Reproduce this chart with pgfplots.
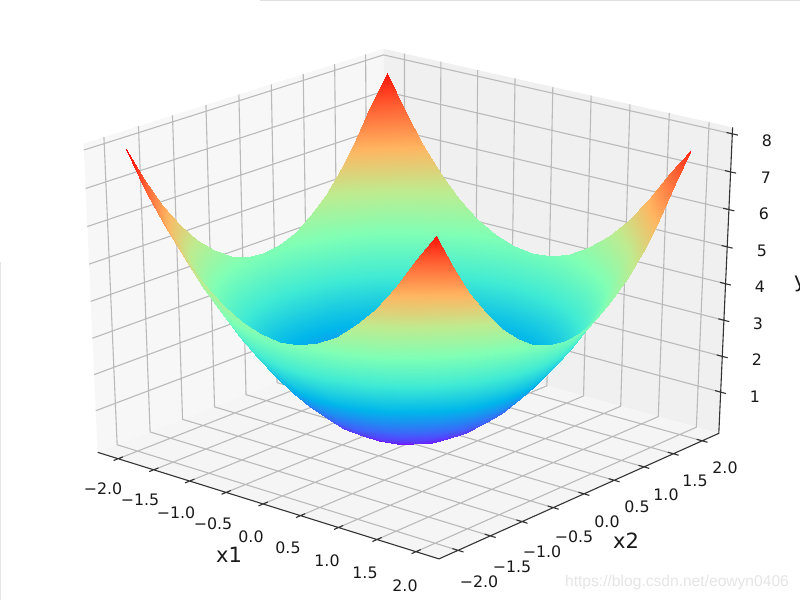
\documentclass[border=0pt]{standalone}
\usepackage{fontspec}
\setmainfont{DejaVu Sans}
\newfontfamily\markfont{Liberation Sans}
\usepackage{pgfplots}
\usepackage{pgfplotstable}
\pgfplotsset{compat=1.18}

% x1 x2 y, far row first so that the near corner is painted last
\pgfplotstableread{
a b c
-2 2 7.8025
-1.75 2 6.865
-1.5 2 6.0525
-1.25 2 5.365
-1 2 4.8025
-0.75 2 4.365
-0.5 2 4.0525
-0.25 2 3.865
0 2 3.8025
0.25 2 3.865
0.5 2 4.0525
0.75 2 4.365
1 2 4.8025
1.25 2 5.365
1.5 2 6.0525
1.75 2 6.865
2 2 7.605
-2 1.75 7.0625
-1.75 1.75 6.125
-1.5 1.75 5.3125
-1.25 1.75 4.625
-1 1.75 4.0625
-0.75 1.75 3.625
-0.5 1.75 3.3125
-0.25 1.75 3.125
0 1.75 3.0625
0.25 1.75 3.125
0.5 1.75 3.3125
0.75 1.75 3.625
1 1.75 4.0625
1.25 1.75 4.625
1.5 1.75 5.3125
1.75 1.75 6.125
2 1.75 6.865
-2 1.5 6.25
-1.75 1.5 5.3125
-1.5 1.5 4.5
-1.25 1.5 3.8125
-1 1.5 3.25
-0.75 1.5 2.8125
-0.5 1.5 2.5
-0.25 1.5 2.3125
0 1.5 2.25
0.25 1.5 2.3125
0.5 1.5 2.5
0.75 1.5 2.8125
1 1.5 3.25
1.25 1.5 3.8125
1.5 1.5 4.5
1.75 1.5 5.3125
2 1.5 6.0525
-2 1.25 5.5625
-1.75 1.25 4.625
-1.5 1.25 3.8125
-1.25 1.25 3.125
-1 1.25 2.5625
-0.75 1.25 2.125
-0.5 1.25 1.8125
-0.25 1.25 1.625
0 1.25 1.5625
0.25 1.25 1.625
0.5 1.25 1.8125
0.75 1.25 2.125
1 1.25 2.5625
1.25 1.25 3.125
1.5 1.25 3.8125
1.75 1.25 4.625
2 1.25 5.365
-2 1 5
-1.75 1 4.0625
-1.5 1 3.25
-1.25 1 2.5625
-1 1 2
-0.75 1 1.5625
-0.5 1 1.25
-0.25 1 1.0625
0 1 1
0.25 1 1.0625
0.5 1 1.25
0.75 1 1.5625
1 1 2
1.25 1 2.5625
1.5 1 3.25
1.75 1 4.0625
2 1 4.8025
-2 0.75 4.5625
-1.75 0.75 3.625
-1.5 0.75 2.8125
-1.25 0.75 2.125
-1 0.75 1.5625
-0.75 0.75 1.125
-0.5 0.75 0.8125
-0.25 0.75 0.625
0 0.75 0.5625
0.25 0.75 0.625
0.5 0.75 0.8125
0.75 0.75 1.125
1 0.75 1.5625
1.25 0.75 2.125
1.5 0.75 2.8125
1.75 0.75 3.625
2 0.75 4.365
-2 0.5 4.25
-1.75 0.5 3.3125
-1.5 0.5 2.5
-1.25 0.5 1.8125
-1 0.5 1.25
-0.75 0.5 0.8125
-0.5 0.5 0.5
-0.25 0.5 0.3125
0 0.5 0.25
0.25 0.5 0.3125
0.5 0.5 0.5
0.75 0.5 0.8125
1 0.5 1.25
1.25 0.5 1.8125
1.5 0.5 2.5
1.75 0.5 3.3125
2 0.5 4.0525
-2 0.25 4.0625
-1.75 0.25 3.125
-1.5 0.25 2.3125
-1.25 0.25 1.625
-1 0.25 1.0625
-0.75 0.25 0.625
-0.5 0.25 0.3125
-0.25 0.25 0.125
0 0.25 0.0625
0.25 0.25 0.125
0.5 0.25 0.3125
0.75 0.25 0.625
1 0.25 1.0625
1.25 0.25 1.625
1.5 0.25 2.3125
1.75 0.25 3.125
2 0.25 3.865
-2 0 4
-1.75 0 3.0625
-1.5 0 2.25
-1.25 0 1.5625
-1 0 1
-0.75 0 0.5625
-0.5 0 0.25
-0.25 0 0.0625
0 0 0
0.25 0 0.0625
0.5 0 0.25
0.75 0 0.5625
1 0 1
1.25 0 1.5625
1.5 0 2.25
1.75 0 3.0625
2 0 3.8025
-2 -0.25 4.0625
-1.75 -0.25 3.125
-1.5 -0.25 2.3125
-1.25 -0.25 1.625
-1 -0.25 1.0625
-0.75 -0.25 0.625
-0.5 -0.25 0.3125
-0.25 -0.25 0.125
0 -0.25 0.0625
0.25 -0.25 0.125
0.5 -0.25 0.3125
0.75 -0.25 0.625
1 -0.25 1.0625
1.25 -0.25 1.625
1.5 -0.25 2.3125
1.75 -0.25 3.125
2 -0.25 3.865
-2 -0.5 4.25
-1.75 -0.5 3.3125
-1.5 -0.5 2.5
-1.25 -0.5 1.8125
-1 -0.5 1.25
-0.75 -0.5 0.8125
-0.5 -0.5 0.5
-0.25 -0.5 0.3125
0 -0.5 0.25
0.25 -0.5 0.3125
0.5 -0.5 0.5
0.75 -0.5 0.8125
1 -0.5 1.25
1.25 -0.5 1.8125
1.5 -0.5 2.5
1.75 -0.5 3.3125
2 -0.5 4.0525
-2 -0.75 4.5625
-1.75 -0.75 3.625
-1.5 -0.75 2.8125
-1.25 -0.75 2.125
-1 -0.75 1.5625
-0.75 -0.75 1.125
-0.5 -0.75 0.8125
-0.25 -0.75 0.625
0 -0.75 0.5625
0.25 -0.75 0.625
0.5 -0.75 0.8125
0.75 -0.75 1.125
1 -0.75 1.5625
1.25 -0.75 2.125
1.5 -0.75 2.8125
1.75 -0.75 3.625
2 -0.75 4.365
-2 -1 5
-1.75 -1 4.0625
-1.5 -1 3.25
-1.25 -1 2.5625
-1 -1 2
-0.75 -1 1.5625
-0.5 -1 1.25
-0.25 -1 1.0625
0 -1 1
0.25 -1 1.0625
0.5 -1 1.25
0.75 -1 1.5625
1 -1 2
1.25 -1 2.5625
1.5 -1 3.25
1.75 -1 4.0625
2 -1 4.8025
-2 -1.25 5.5625
-1.75 -1.25 4.625
-1.5 -1.25 3.8125
-1.25 -1.25 3.125
-1 -1.25 2.5625
-0.75 -1.25 2.125
-0.5 -1.25 1.8125
-0.25 -1.25 1.625
0 -1.25 1.5625
0.25 -1.25 1.625
0.5 -1.25 1.8125
0.75 -1.25 2.125
1 -1.25 2.5625
1.25 -1.25 3.125
1.5 -1.25 3.8125
1.75 -1.25 4.625
2 -1.25 5.365
-2 -1.5 6.25
-1.75 -1.5 5.3125
-1.5 -1.5 4.5
-1.25 -1.5 3.8125
-1 -1.5 3.25
-0.75 -1.5 2.8125
-0.5 -1.5 2.5
-0.25 -1.5 2.3125
0 -1.5 2.25
0.25 -1.5 2.3125
0.5 -1.5 2.5
0.75 -1.5 2.8125
1 -1.5 3.25
1.25 -1.5 3.8125
1.5 -1.5 4.5
1.75 -1.5 5.3125
2 -1.5 6.0525
-2 -1.75 7.0625
-1.75 -1.75 6.125
-1.5 -1.75 5.3125
-1.25 -1.75 4.625
-1 -1.75 4.0625
-0.75 -1.75 3.625
-0.5 -1.75 3.3125
-0.25 -1.75 3.125
0 -1.75 3.0625
0.25 -1.75 3.125
0.5 -1.75 3.3125
0.75 -1.75 3.625
1 -1.75 4.0625
1.25 -1.75 4.625
1.5 -1.75 5.3125
1.75 -1.75 6.125
2 -1.75 6.865
-2 -2 8
-1.75 -2 7.0625
-1.5 -2 6.25
-1.25 -2 5.5625
-1 -2 5
-0.75 -2 4.5625
-0.5 -2 4.25
-0.25 -2 4.0625
0 -2 4
0.25 -2 4.0625
0.5 -2 4.25
0.75 -2 4.5625
1 -2 5
1.25 -2 5.5625
1.5 -2 6.25
1.75 -2 7.0625
2 -2 7.8025
}\surfdata

\pgfplotstableread{
a b c
-2.2917 -2.2917 -0.1667
-2.2917 2.2917 -0.1667
-2.2917 2.2917 8.1667
-2.2917 -2.2917 8.1667
}\paneleft
\pgfplotstableread{
a b c
-2.2917 2.2917 -0.1667
2.2917 2.2917 -0.1667
2.2917 2.2917 8.1667
-2.2917 2.2917 8.1667
}\paneright
\pgfplotstableread{
a b c
-2.2917 -2.2917 -0.1667
2.2917 -2.2917 -0.1667
2.2917 2.2917 -0.1667
-2.2917 2.2917 -0.1667
}\panefloor

% the perspective of the original 3d view (azim -50, elev 25, dist 10), in pixels
\pgfplotsset{
  /pgfplots/table/proj/.style={
    x expr={PX(\thisrow{a},\thisrow{b},\thisrow{c})},
    y expr={PY(\thisrow{a},\thisrow{b},\thisrow{c})},
    z expr=0,
  },
}

\begin{document}
\begin{tikzpicture}
\useasboundingbox (0,0) rectangle (800pt,600pt);
\begin{axis}[
  at={(0,0)}, anchor=south west,
  scale only axis, width=800pt, height=600pt,
  xmin=0, xmax=800, ymin=0, ymax=600, zmin=-1, zmax=9,
  view={0}{90}, hide axis,
  declare function={
    DD(\a,\b,\c)=10-(0.5825*\a/4.4-0.694*\b/4.4+0.4226*(\c-4)/8);
    PX(\a,\b,\c)=410+4325*(0.766*\a/4.4+0.643*\b/4.4)/DD(\a,\b,\c);
    PY(\a,\b,\c)=307.5+3255*(-0.2717*\a/4.4+0.3237*\b/4.4+0.906*(\c-4)/8)/DD(\a,\b,\c);
  },
  colormap={rb}{rgb=(.5,0,1) rgb=(.25,.38,.98) rgb=(0,.71,.92) rgb=(.25,.92,.83)
    rgb=(.5,1,.71) rgb=(.75,.92,.56) rgb=(1,.71,.38) rgb=(1,.38,.2) rgb=(1,0,0)},
  point meta min=0, point meta max=8,
  empty line=jump,
]
\addplot3[draw=none, fill=black!3] table[proj] \paneleft;
\addplot3[draw=none, fill=black!6] table[proj] \paneright;
\addplot3[draw=none, fill=black!4] table[proj] \panefloor;

% grid on the three panes
\addplot3[line width=1.1pt, color=black!27, no markers] table[proj] {
a b c
-2 -2.2917 -0.1667
-2 2.2917 -0.1667
-2 2.2917 8.1667

-1.5 -2.2917 -0.1667
-1.5 2.2917 -0.1667
-1.5 2.2917 8.1667

-1 -2.2917 -0.1667
-1 2.2917 -0.1667
-1 2.2917 8.1667

-0.5 -2.2917 -0.1667
-0.5 2.2917 -0.1667
-0.5 2.2917 8.1667

0 -2.2917 -0.1667
0 2.2917 -0.1667
0 2.2917 8.1667

0.5 -2.2917 -0.1667
0.5 2.2917 -0.1667
0.5 2.2917 8.1667

1 -2.2917 -0.1667
1 2.2917 -0.1667
1 2.2917 8.1667

1.5 -2.2917 -0.1667
1.5 2.2917 -0.1667
1.5 2.2917 8.1667

2 -2.2917 -0.1667
2 2.2917 -0.1667
2 2.2917 8.1667

2.2917 -2 -0.1667
-2.2917 -2 -0.1667
-2.2917 -2 8.1667

2.2917 -1.5 -0.1667
-2.2917 -1.5 -0.1667
-2.2917 -1.5 8.1667

2.2917 -1 -0.1667
-2.2917 -1 -0.1667
-2.2917 -1 8.1667

2.2917 -0.5 -0.1667
-2.2917 -0.5 -0.1667
-2.2917 -0.5 8.1667

2.2917 0 -0.1667
-2.2917 0 -0.1667
-2.2917 0 8.1667

2.2917 0.5 -0.1667
-2.2917 0.5 -0.1667
-2.2917 0.5 8.1667

2.2917 1 -0.1667
-2.2917 1 -0.1667
-2.2917 1 8.1667

2.2917 1.5 -0.1667
-2.2917 1.5 -0.1667
-2.2917 1.5 8.1667

2.2917 2 -0.1667
-2.2917 2 -0.1667
-2.2917 2 8.1667

-2.2917 -2.2917 1
-2.2917 2.2917 1
2.2917 2.2917 1

-2.2917 -2.2917 2
-2.2917 2.2917 2
2.2917 2.2917 2

-2.2917 -2.2917 3
-2.2917 2.2917 3
2.2917 2.2917 3

-2.2917 -2.2917 4
-2.2917 2.2917 4
2.2917 2.2917 4

-2.2917 -2.2917 5
-2.2917 2.2917 5
2.2917 2.2917 5

-2.2917 -2.2917 6
-2.2917 2.2917 6
2.2917 2.2917 6

-2.2917 -2.2917 7
-2.2917 2.2917 7
2.2917 2.2917 7

-2.2917 -2.2917 8
-2.2917 2.2917 8
2.2917 2.2917 8
};

% black axis lines and tick marks
\addplot3[line width=1.1pt, color=black!80, no markers] table[proj] {
a b c
-2.2917 -2.2917 -0.1667
2.2917 -2.2917 -0.1667
2.2917 2.2917 -0.1667
2.2917 2.2917 8.1667

-2 -2.36 -0.1667
-2 -2.22 -0.1667

-1.5 -2.36 -0.1667
-1.5 -2.22 -0.1667

-1 -2.36 -0.1667
-1 -2.22 -0.1667

-0.5 -2.36 -0.1667
-0.5 -2.22 -0.1667

0 -2.36 -0.1667
0 -2.22 -0.1667

0.5 -2.36 -0.1667
0.5 -2.22 -0.1667

1 -2.36 -0.1667
1 -2.22 -0.1667

1.5 -2.36 -0.1667
1.5 -2.22 -0.1667

2 -2.36 -0.1667
2 -2.22 -0.1667

2.22 -2 -0.1667
2.36 -2 -0.1667

2.22 -1.5 -0.1667
2.36 -1.5 -0.1667

2.22 -1 -0.1667
2.36 -1 -0.1667

2.22 -0.5 -0.1667
2.36 -0.5 -0.1667

2.22 0 -0.1667
2.36 0 -0.1667

2.22 0.5 -0.1667
2.36 0.5 -0.1667

2.22 1 -0.1667
2.36 1 -0.1667

2.22 1.5 -0.1667
2.36 1.5 -0.1667

2.22 2 -0.1667
2.36 2 -0.1667

2.22 2.2917 1
2.36 2.2917 1

2.22 2.2917 2
2.36 2.2917 2

2.22 2.2917 3
2.36 2.2917 3

2.22 2.2917 4
2.36 2.2917 4

2.22 2.2917 5
2.36 2.2917 5

2.22 2.2917 6
2.36 2.2917 6

2.22 2.2917 7
2.36 2.2917 7

2.22 2.2917 8
2.36 2.2917 8
};

\addplot3[surf, shader=interp, z buffer=none, mesh/rows=17, mesh/cols=17,
  point meta=\thisrow{c}] table[proj, z expr=\thisrow{c}] \surfdata;

% thin edges left by the screenshot
\addplot3[line width=1pt, color=black!12, no markers] coordinates {(260,599.3,0) (800,599.3,0)};
\addplot3[line width=1pt, color=black!10, no markers] coordinates {(0.5,338,0) (0.5,0,0)};

\tikzset{tl/.style={font=\fontsize{15.8}{18}\selectfont, text=black!90, inner sep=0pt}}
\node[tl] at (axis cs:103,111) {−2.0};
\node[tl] at (axis cs:140,100) {−1.5};
\node[tl] at (axis cs:176,87) {−1.0};
\node[tl] at (axis cs:213,76) {−0.5};
\node[tl] at (axis cs:251,63) {0.0};
\node[tl] at (axis cs:288,52) {0.5};
\node[tl] at (axis cs:327,39) {1.0};
\node[tl] at (axis cs:365,27) {1.5};
\node[tl] at (axis cs:405,14) {2.0};
\node[tl] at (axis cs:479,18) {−2.0};
\node[tl] at (axis cs:512,33) {−1.5};
\node[tl] at (axis cs:542,48) {−1.0};
\node[tl] at (axis cs:574,63) {−0.5};
\node[tl] at (axis cs:607,78) {0.0};
\node[tl] at (axis cs:637,93) {0.5};
\node[tl] at (axis cs:666,105) {1.0};
\node[tl] at (axis cs:695,119) {1.5};
\node[tl] at (axis cs:725,132) {2.0};
\node[tl] at (axis cs:755,203) {1};
\node[tl] at (axis cs:757,240) {2};
\node[tl] at (axis cs:758,276) {3};
\node[tl] at (axis cs:760,313) {4};
\node[tl] at (axis cs:762,349) {5};
\node[tl] at (axis cs:764,386) {6};
\node[tl] at (axis cs:766,422) {7};
\node[tl] at (axis cs:767,459) {8};
\tikzset{al/.style={font=\fontsize{21}{24}\selectfont, text=black!90, inner sep=0pt}}
\node[al] at (axis cs:229,45) {x1};
\node[al] at (axis cs:626,59) {x2};
\node[al, anchor=west] at (axis cs:794,316) {y};
\node[font=\markfont\fontsize{15.6}{18}\selectfont, text=black!10, inner sep=0pt] at (axis cs:677,18) {https://blog.csdn.net/eowyn0406};
\end{axis}
\end{tikzpicture}
\end{document}
